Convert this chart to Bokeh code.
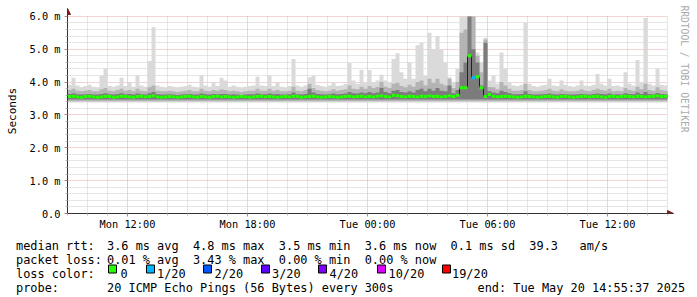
import numpy as np
from bokeh.plotting import figure
from bokeh.models import Range1d, FixedTicker, Arrow, NormalHead, Title
from bokeh.layouts import column
from bokeh.embed import file_html
from bokeh.resources import INLINE
from bokeh.core.properties import value

# ---------------- data ----------------
T_START = 0.0      # hours after Mon 09:00
T_STEP = 0.2       # 12-minute bins
T_END = 30.0

MEDIAN = [
    3.56, 3.57, 3.55, 3.54, 3.56, 3.57, 3.55, 3.54, 3.55, 3.57,
    3.56, 3.54, 3.55, 3.57, 3.56, 3.55, 3.54, 3.56, 3.57, 3.55,
    3.56, 3.58, 3.55, 3.54, 3.55, 3.56, 3.55, 3.54, 3.55, 3.56,
    3.57, 3.55, 3.54, 3.56, 3.55, 3.54, 3.56, 3.57, 3.55, 3.56,
    3.55, 3.54, 3.55, 3.56, 3.55, 3.54, 3.55, 3.56, 3.57, 3.55,
    3.56, 3.55, 3.54, 3.55, 3.56, 3.55, 3.57, 3.56, 3.54, 3.55,
    3.56, 3.57, 3.55, 3.54, 3.55, 3.56, 3.55, 3.54, 3.55, 3.56,
    3.57, 3.55, 3.56, 3.57, 3.55, 3.56, 3.55, 3.57, 3.58, 3.56,
    3.55, 3.60, 3.58, 3.56, 3.55, 3.57, 3.56, 3.55, 3.57, 3.56,
    3.58, 3.56, 3.57, 3.55, 3.56, 3.58, 3.56, 3.60, 3.83, 3.83,
    4.80, 4.13, 4.16, 3.83, 3.56, 3.62, 3.57, 3.55, 3.56, 3.57,
    3.56, 3.55, 3.54, 3.55, 3.57, 3.56, 3.55, 3.54, 3.55, 3.56,
    3.57, 3.55, 3.54, 3.56, 3.57, 3.55, 3.54, 3.55, 3.56, 3.57,
    3.55, 3.56, 3.57, 3.55, 3.54, 3.56, 3.57, 3.55, 3.56, 3.57,
    3.56, 3.55, 3.57, 3.56, 3.55, 3.56, 3.57, 3.58, 3.56, 3.57,
]

DARK_TOP = [
    3.64, 3.66, 3.63, 3.62, 3.63, 3.64, 3.62, 3.62, 3.64, 3.66,
    3.63, 3.62, 3.64, 3.66, 3.63, 3.64, 3.62, 3.65, 3.63, 3.62,
    3.66, 3.70, 3.63, 3.62, 3.62, 3.63, 3.62, 3.61, 3.62, 3.63,
    3.64, 3.62, 3.62, 3.65, 3.63, 3.62, 3.64, 3.63, 3.64, 3.64,
    3.62, 3.63, 3.62, 3.61, 3.62, 3.63, 3.63, 3.65, 3.63, 3.63,
    3.65, 3.63, 3.64, 3.62, 3.62, 3.63, 3.68, 3.63, 3.62, 3.64,
    3.80, 3.68, 3.64, 3.63, 3.62, 3.63, 3.65, 3.63, 3.64, 3.65,
    3.70, 3.66, 3.65, 3.68, 3.66, 3.70, 3.66, 3.68, 3.82, 3.70,
    3.66, 3.74, 3.76, 3.70, 3.68, 3.72, 3.68, 3.76, 3.80, 3.72,
    3.80, 3.74, 3.82, 3.74, 3.72, 3.90, 3.66, 3.76, 4.30, 4.60,
    6.00, 5.00, 4.60, 3.90, 5.20, 3.72, 3.68, 3.66, 3.74, 3.70,
    3.66, 3.63, 3.63, 3.64, 3.72, 3.64, 3.62, 3.62, 3.63, 3.64,
    3.65, 3.63, 3.62, 3.64, 3.63, 3.62, 3.62, 3.63, 3.64, 3.63,
    3.62, 3.64, 3.65, 3.64, 3.63, 3.65, 3.62, 3.63, 3.62, 3.66,
    3.64, 3.63, 3.68, 3.64, 3.70, 3.64, 3.63, 3.67, 3.64, 3.63,
]

MID_TOP = [
    3.76, 3.80, 3.74, 3.72, 3.74, 3.76, 3.72, 3.72, 3.78, 3.82,
    3.74, 3.72, 3.76, 3.80, 3.74, 3.76, 3.72, 3.80, 3.74, 3.72,
    3.84, 3.90, 3.74, 3.72, 3.72, 3.74, 3.72, 3.70, 3.72, 3.74,
    3.76, 3.72, 3.72, 3.80, 3.74, 3.72, 3.76, 3.74, 3.78, 3.76,
    3.72, 3.74, 3.72, 3.70, 3.72, 3.74, 3.74, 3.80, 3.74, 3.74,
    3.80, 3.74, 3.76, 3.72, 3.72, 3.74, 3.86, 3.74, 3.72, 3.76,
    3.95, 3.82, 3.76, 3.74, 3.72, 3.74, 3.78, 3.74, 3.76, 3.78,
    3.90, 3.80, 3.78, 3.86, 3.80, 3.88, 3.82, 3.85, 4.00, 3.86,
    3.82, 3.95, 3.98, 3.88, 3.84, 3.92, 3.86, 4.00, 4.05, 3.90,
    4.10, 3.98, 4.10, 3.95, 3.90, 4.10, 3.82, 4.00, 5.50, 5.60,
    6.00, 6.00, 4.80, 4.30, 5.30, 3.85, 3.84, 3.78, 4.00, 3.90,
    3.80, 3.74, 3.74, 3.76, 3.95, 3.76, 3.72, 3.72, 3.74, 3.76,
    3.80, 3.74, 3.72, 3.78, 3.74, 3.72, 3.72, 3.74, 3.78, 3.74,
    3.72, 3.76, 3.80, 3.76, 3.74, 3.80, 3.72, 3.74, 3.72, 3.82,
    3.76, 3.74, 3.86, 3.78, 3.95, 3.76, 3.74, 3.84, 3.76, 3.74,
]

LIGHT_TOP = [
    3.92, 4.13, 3.90, 3.85, 3.88, 3.92, 3.86, 3.84, 4.19, 4.40,
    3.88, 3.86, 3.90, 4.13, 3.88, 4.00, 3.86, 4.20, 3.90, 3.86,
    4.64, 5.67, 3.90, 3.86, 3.84, 3.88, 3.86, 3.84, 3.86, 3.88,
    3.92, 3.86, 3.84, 4.20, 3.90, 3.86, 4.00, 3.88, 4.13, 4.05,
    3.86, 3.90, 3.86, 3.84, 3.86, 3.88, 3.90, 4.16, 3.90, 3.88,
    4.20, 3.88, 4.00, 3.86, 3.84, 3.88, 4.70, 3.90, 3.86, 3.90,
    4.15, 4.19, 3.92, 3.88, 3.86, 3.90, 4.00, 3.88, 3.90, 3.95,
    4.58, 4.05, 3.95, 4.37, 3.98, 4.37, 4.00, 4.05, 4.22, 4.05,
    4.00, 4.70, 4.88, 4.30, 4.10, 4.60, 4.10, 5.12, 5.20, 4.20,
    5.50, 5.00, 5.40, 5.00, 4.60, 4.15, 4.00, 4.40, 6.00, 6.00,
    6.00, 6.00, 4.90, 4.60, 5.35, 4.05, 4.20, 3.95, 4.90, 4.40,
    4.00, 3.90, 3.88, 3.92, 5.80, 3.95, 3.88, 3.86, 3.90, 3.92,
    4.10, 3.90, 3.88, 4.05, 3.92, 3.88, 3.86, 3.90, 4.05, 3.90,
    3.88, 3.92, 4.25, 3.95, 3.90, 4.10, 3.88, 3.90, 3.86, 4.30,
    3.95, 3.90, 4.67, 4.00, 5.95, 3.95, 3.90, 4.40, 3.92, 3.90,
]

LOSS = [
    0, 0, 0, 0, 0, 0, 0, 0, 0, 0,
    0, 0, 0, 0, 0, 0, 0, 0, 0, 0,
    0, 0, 0, 0, 0, 0, 0, 0, 0, 0,
    0, 0, 0, 0, 0, 0, 0, 0, 0, 0,
    0, 0, 0, 0, 0, 0, 0, 0, 0, 0,
    0, 0, 0, 0, 0, 0, 0, 0, 0, 0,
    0, 0, 0, 0, 0, 0, 0, 0, 0, 0,
    0, 0, 0, 0, 0, 0, 0, 0, 0, 0,
    0, 0, 0, 0, 0, 0, 0, 0, 0, 0,
    0, 0, 0, 0, 0, 0, 0, 0, 0, 0,
    0, 1, 0, 0, 0, 0, 0, 0, 0, 0,
    0, 0, 0, 0, 0, 0, 0, 0, 0, 0,
    0, 0, 0, 0, 0, 0, 0, 0, 0, 0,
    0, 0, 0, 0, 0, 0, 0, 0, 0, 0,
    0, 0, 0, 0, 0, 0, 0, 0, 0, 0,
]

LIGHT_LO = 3.38
MID_LO = 3.42
DARK_LO = 3.47

Y_MAX = 6.0
X_TICKS = [3, 9, 15, 21, 27]
X_TICK_LABELS = ["Mon 12:00", "Mon 18:00", "Tue 00:00", "Tue 06:00", "Tue 12:00"]
Y_TICKS = [0, 1, 2, 3, 4, 5, 6]
Y_TICK_LABELS = ["0.0", "1.0 m", "2.0 m", "3.0 m", "4.0 m", "5.0 m", "6.0 m"]

LOSS_LEVELS = [0, 1, 2, 3, 4, 10, 19]
LOSS_LABELS = ["0", "1/20", "2/20", "3/20", "4/20", "10/20", "19/20"]
LOSS_COLORS = ["#26ff00", "#00b8ff", "#0059ff", "#5e00ff", "#7e00ff", "#dd00ff", "#ff0000"]

LEGEND_ROWS = [
    ("median rtt:", "3.6 ms avg  4.8 ms max  3.5 ms min  3.6 ms now  0.1 ms sd  39.3   am/s"),
    ("packet loss:", "0.01 % avg  3.43 % max  0.00 % min  0.00 % now"),
    ("loss color:", ""),
    ("probe:", "20 ICMP Echo Pings (56 Bytes) every 300s"),
]
END_TEXT = "end: Tue May 20 14:55:37 2025"
WATERMARK = "RRDTOOL / TOBI OETIKER"

# ---------------- derived geometry ----------------
n = len(MEDIAN)
edges = T_START + T_STEP * np.arange(n + 1)
xs = np.repeat(edges, 2)[1:-1]


def steps(v):
    return np.repeat(np.asarray(v, dtype=float), 2)


def nb(s):
    return s.replace(" ", "\u00a0")


MONO = "DejaVu Sans Mono"
X_ARROW = 0.3    # hours of axis beyond the data for the arrow head
Y_ARROW = 0.24   # ms of axis above the top for the arrow head

p = figure(width=697, height=232,
           x_range=Range1d(T_START, T_END + X_ARROW), y_range=Range1d(0, Y_MAX + Y_ARROW),
           output_backend="svg", toolbar_location=None,
           min_border_left=67, min_border_right=24, min_border_top=8, min_border_bottom=17)
try:
    p.frame_align = False
except Exception:
    pass
p.outline_line_color = None
p.background_fill_color = "white"
p.border_fill_color = "white"

xt = FixedTicker(ticks=X_TICKS, minor_ticks=[h for h in range(0, 31) if h not in X_TICKS])
yt = FixedTicker(ticks=Y_TICKS, minor_ticks=[round(0.2 * k, 1) for k in range(1, 31) if k % 5 != 0])
p.xaxis.ticker = xt
p.yaxis.ticker = yt
p.xgrid.ticker = xt
p.ygrid.ticker = yt

for g in (p.xgrid, p.ygrid):
    g.grid_line_color = "#e4a8a8"
    g.grid_line_dash = "1 1"
    g.minor_grid_line_color = "#cccccc"
    g.minor_grid_line_dash = "1 1"
try:
    p.xgrid.cross_bounds = (0, Y_MAX)
    p.ygrid.cross_bounds = (T_START, T_END)
except Exception:
    pass

p.xaxis.major_label_overrides = {t: l for t, l in zip(X_TICKS, X_TICK_LABELS)}
p.yaxis.major_label_overrides = {t: l for t, l in zip(Y_TICKS, Y_TICK_LABELS)}

for ax in (p.xaxis, p.yaxis):
    ax.axis_line_color = "#333333"
    ax.major_label_text_font = MONO
    ax.major_label_text_font_size = "10.3px"
    ax.major_label_text_color = "#000000"
    ax.major_tick_in = 0
    ax.minor_tick_in = 0
    ax.major_tick_out = 3
    ax.minor_tick_out = 2
    ax.major_tick_line_color = "#c08080"
    ax.minor_tick_line_color = "#bbbbbb"

p.xaxis.major_label_standoff = 1
p.yaxis.major_label_standoff = 4
p.yaxis.axis_label = "Seconds"
p.yaxis.axis_label_text_font = MONO
p.yaxis.axis_label_text_font_size = "11px"
p.yaxis.axis_label_text_font_style = "normal"
p.yaxis.axis_label_text_color = "#000000"
p.yaxis.axis_label_standoff = 8

# smoke
p.varea(x=xs, y1=np.full(len(xs), LIGHT_LO), y2=steps(LIGHT_TOP), fill_color="#dadada")
p.varea(x=xs, y1=np.full(len(xs), MID_LO), y2=steps(MID_TOP), fill_color="#b4b4b4")
p.varea(x=xs, y1=np.full(len(xs), DARK_LO), y2=steps(DARK_TOP), fill_color="#7c7c7c")

# median
p.line(x=xs, y=steps(MEDIAN), line_color="#202020", line_width=1)
cmap = dict(zip(LOSS_LEVELS, LOSS_COLORS))
med = np.asarray(MEDIAN)
p.quad(left=edges[:-1], right=edges[1:], bottom=med - 0.045, top=med + 0.045,
       fill_color=[cmap[l] for l in LOSS], line_color=None)

# axis arrows
p.add_layout(Arrow(end=NormalHead(size=6, fill_color="#8b1a1a", line_color="#8b1a1a"),
                   x_start=T_START, y_start=Y_MAX - 0.1, x_end=T_START, y_end=Y_MAX + Y_ARROW,
                   line_color="#333333", line_width=1))
p.add_layout(Arrow(end=NormalHead(size=6, fill_color="#8b1a1a", line_color="#8b1a1a"),
                   x_start=T_END - 0.1, y_start=0, x_end=T_END + X_ARROW, y_end=0,
                   line_color="#333333", line_width=1))

p.add_layout(Title(text=WATERMARK, text_font=MONO, text_font_size="9.6px",
                   text_color="#aaaaaa", text_font_style="normal",
                   align="left", offset=-3, standoff=11), "right")

# ---------------- legend strip ----------------
leg = figure(width=697, height=65, x_range=Range1d(0, 697), y_range=Range1d(65, 0),
             output_backend="svg", toolbar_location=None, min_border=0,
             min_border_left=0, min_border_right=0, min_border_top=0, min_border_bottom=0,
             x_axis_type=None, y_axis_type=None)
try:
    leg.frame_align = False
except Exception:
    pass
leg.grid.visible = False
leg.outline_line_color = None
leg.background_fill_color = "white"
leg.border_fill_color = "white"

FS = value("11.9px")
row_y = [13, 27, 41, 55]
heads = [nb(r[0]) for r in LEGEND_ROWS]
bodies = [nb(r[1]) for r in LEGEND_ROWS]
leg.text(x=[15.5] * 4, y=row_y, text=heads, text_font=value(MONO), text_font_size=FS,
         text_baseline="alphabetic", text_color="#000000")
leg.text(x=[106.5] * 4, y=row_y, text=bodies, text_font=value(MONO), text_font_size=FS,
         text_baseline="alphabetic", text_color="#000000")
leg.text(x=[477], y=[55], text=[nb(END_TEXT)], text_font=value(MONO), text_font_size=FS,
         text_baseline="alphabetic", text_color="#000000")

box_x = [108, 146, 203, 261, 318, 377, 442]
lab_x = [120, 156.5, 214, 271.5, 329, 388, 451.5]
leg.quad(left=box_x, right=[b + 8 for b in box_x], top=[32.5] * 7, bottom=[40.5] * 7,
         fill_color=LOSS_COLORS, line_color="#000000", line_width=1)
leg.text(x=lab_x, y=[41] * 7, text=LOSS_LABELS, text_font=value(MONO), text_font_size=FS,
         text_baseline="alphabetic", text_color="#000000")

layout = column(p, leg, spacing=0)
open("out.html", "w").write(file_html(layout, INLINE))
